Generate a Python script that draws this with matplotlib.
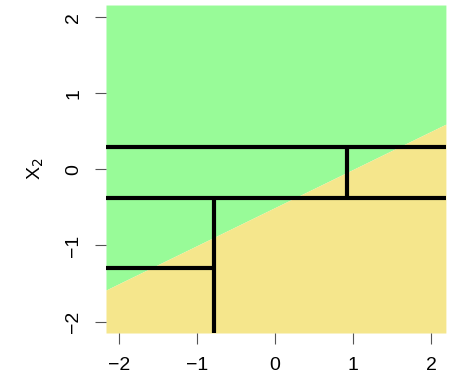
import numpy as np
from matplotlib import pyplot as plt

plt.rcParams['font.family'] = ['Liberation Sans', 'DejaVu Sans']

# true (linear) decision boundary: X2 = slope * X1 + intercept
slope = 0.5
intercept = -0.5

# tree splits (x0, x1, y0, y1) for each partition segment
xlim = (-2.17, 2.19)
ylim = (-2.15, 2.16)
seg_x0 = [xlim[0], xlim[0], xlim[0], -0.79, 0.92]
seg_x1 = [xlim[1], xlim[1], -0.79, -0.79, 0.92]
seg_y0 = [0.30, -0.38, -1.29, ylim[0], -0.38]
seg_y1 = [0.30, -0.38, -1.29, -0.38, 0.30]

ticks = [-2, -1, 0, 1, 2]

fig = plt.figure(figsize=(4.52, 3.77), dpi=100)
ax = fig.add_axes([0.2345, 0.1167, 0.752, 0.870])

xs = np.array(xlim)
boundary = slope * xs + intercept
ax.fill_between(xs, boundary, ylim[1], color='#98FB98', lw=0)
ax.fill_between(xs, ylim[0], boundary, color='#F5E68C', lw=0)

for x0, x1, y0, y1 in zip(seg_x0, seg_x1, seg_y0, seg_y1):
    ax.plot([x0, x1], [y0, y1], color='black', lw=3, solid_capstyle='butt')

ax.set_xlim(xlim)
ax.set_ylim(ylim)
for s in ax.spines.values():
    s.set_visible(False)

labels = ['\u2212%d' % -t if t < 0 else str(t) for t in ticks]
ax.set_xticks(ticks)
ax.set_yticks(ticks)
ax.set_xticklabels(labels, fontsize=14)
ax.set_yticklabels(labels, fontsize=14, rotation=90, va='center')
ax.tick_params(direction='out', length=8, width=0.8, color='#555555', pad=9)
ax.tick_params(axis='y', pad=9)
ax.set_ylabel('X$_2$', fontsize=14, labelpad=14)

fig.savefig('out.png', dpi=100)
